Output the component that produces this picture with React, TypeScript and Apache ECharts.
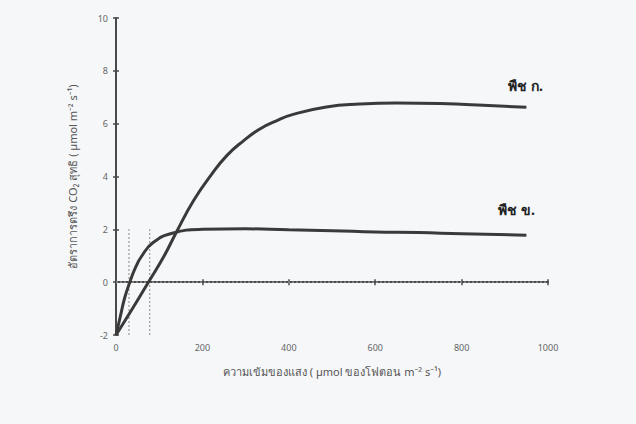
import React, { useEffect, useRef } from "react";
import * as echarts from "echarts";

const plantAx = [0, 40, 75, 110, 140, 180, 220, 257, 295, 333, 370, 410, 487, 564, 650, 750, 850, 950];
const plantAy = [-2, -0.95, 0, 0.95, 1.9, 3.1, 4.05, 4.8, 5.35, 5.8, 6.1, 6.35, 6.63, 6.74, 6.78, 6.76, 6.7, 6.62];
const plantBx = [0, 10, 20, 32, 45, 60, 86, 130, 200, 300, 400, 500, 600, 700, 800, 950];
const plantBy = [-2, -1.3, -0.6, 0, 0.55, 1.0, 1.5, 1.85, 2.0, 2.02, 1.98, 1.95, 1.9, 1.88, 1.83, 1.78];
const compensationB = 30;
const compensationA = 78;
const guideTop = 2;
const zeroLineEnd = 1000;
const xTicks = [0, 200, 400, 600, 800, 1000];
const yTicks = [-2, 0, 2, 4, 6, 8, 10];

const FONT = '"Noto Sans", "DejaVu Sans", sans-serif';
const INK = "#3a3a3a";
const AXIS = "#4a4a4a";

export default function App() {
  const ref = useRef<HTMLDivElement>(null);
  useEffect(() => {
    const chart = echarts.init(ref.current!, null, { renderer: "svg" });
    const pairs = (xs: number[], ys: number[]) => xs.map((x, i) => [x, ys[i]]);
    const dotted = { color: "#9a9a9a", width: 1.2, type: [2, 2] as any };
    chart.setOption({
      animation: false,
      backgroundColor: "#f5f7f9",
      grid: { left: 116, right: 88, top: 18, bottom: 89 },
      xAxis: [
        {
          type: "value",
          min: 0,
          max: 1000,
          interval: 200,
          position: "bottom",
          axisLine: { show: true, lineStyle: { color: AXIS, width: 2 } },
          axisTick: { show: true, inside: false, length: 3, lineStyle: { color: AXIS, width: 1.5 } },
          axisLabel: { color: "#666", fontSize: 9, fontFamily: FONT, margin: 8, formatter: (v: number) => (xTicks.includes(v) ? String(v) : "") },
          splitLine: { show: false },
          name: "ความเข้มของแสง ( µmol ของโฟตอน m⁻² s⁻¹)",
          nameLocation: "middle",
          nameGap: 31,
          nameTextStyle: { color: "#555", fontSize: 11, fontFamily: FONT },
        },
        {
          type: "value",
          min: 0,
          max: 1000,
          interval: 200,
          position: "bottom",
          axisLine: { show: false },
          axisTick: { show: true, inside: true, length: 3, lineStyle: { color: AXIS, width: 1.5 } },
          axisLabel: { show: false },
          splitLine: { show: false },
        },
      ],
      yAxis: [
        {
          type: "value",
          min: -2,
          max: 10,
          interval: 2,
          axisLine: { show: true, lineStyle: { color: AXIS, width: 2 } },
          axisTick: { show: true, inside: false, length: 3, lineStyle: { color: AXIS, width: 1.5 } },
          axisLabel: { color: "#666", fontSize: 9, fontFamily: FONT, margin: 8, formatter: (v: number) => (yTicks.includes(v) ? String(v) : "") },
          splitLine: { show: false },
          name: "อัตราการตรึง CO₂ สุทธิ ( µmol m⁻² s⁻¹)",
          nameLocation: "middle",
          nameGap: 38,
          nameTextStyle: { color: "#555", fontSize: 11, fontFamily: FONT },
        },
        {
          type: "value",
          min: -2,
          max: 10,
          interval: 2,
          position: "left",
          axisLine: { show: false },
          axisTick: { show: true, inside: true, length: 3, lineStyle: { color: AXIS, width: 1.5 } },
          axisLabel: { show: false },
          splitLine: { show: false },
        },
      ],
      series: [
        {
          type: "line",
          name: "zero",
          data: [[0, 0], [zeroLineEnd, 0]],
          symbol: "none",
          lineStyle: dotted,
          z: 1,
        },
        {
          type: "line",
          name: "guideB",
          data: [[compensationB, -2], [compensationB, guideTop]],
          symbol: "none",
          lineStyle: dotted,
          z: 1,
        },
        {
          type: "line",
          name: "guideA",
          data: [[compensationA, -2], [compensationA, guideTop]],
          symbol: "none",
          lineStyle: dotted,
          z: 1,
        },
        {
          type: "line",
          name: "พืช ก.",
          data: pairs(plantAx, plantAy),
          smooth: 0.5,
          symbol: "none",
          lineStyle: { color: INK, width: 3 },
          endLabel: { show: true, formatter: "พืช ก.", offset: [-26, -22], color: "#222", fontSize: 14, fontWeight: "bold", fontFamily: FONT },
          z: 3,
        },
        {
          type: "line",
          name: "พืช ข.",
          data: pairs(plantBx, plantBy),
          smooth: 0.5,
          symbol: "none",
          lineStyle: { color: INK, width: 3 },
          endLabel: { show: true, formatter: "พืช ข.", offset: [-36, -26], color: "#222", fontSize: 14, fontWeight: "bold", fontFamily: FONT },
          z: 3,
        },
      ],
    });
    return () => chart.dispose();
  }, []);
  return <div ref={ref} style={{ position: "absolute", left: 0, top: 0, width: 636, height: 424 }} />;
}
